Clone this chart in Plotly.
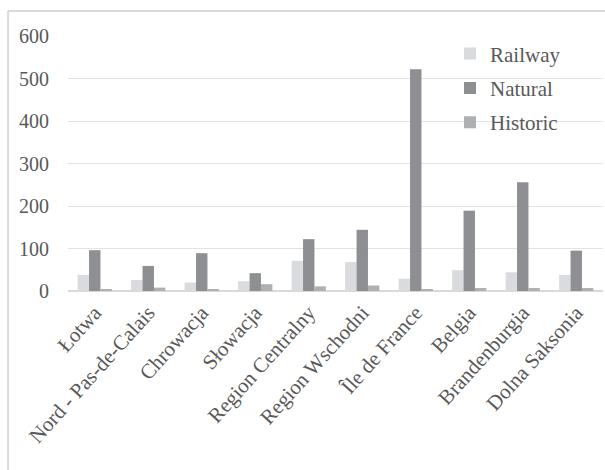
import plotly.graph_objects as go

categories = ["Łotwa", "Nord - Pas-de-Calais", "Chrowacja", "Słowacja", "Region Centralny",
              "Region Wschodni", "Île de France", "Belgia", "Brandenburgia", "Dolna Saksonia"]
railway = [38, 26, 20, 23, 71, 68, 29, 49, 44, 38]
natural = [96, 59, 89, 42, 122, 144, 522, 189, 256, 95]
historic = [4, 8, 4, 16, 11, 13, 3, 7, 7, 7]

series = [("Railway", railway, "#dadbde"), ("Natural", natural, "#8d8f93"), ("Historic", historic, "#aeb0b3")]

FONT = "Liberation Serif, Times New Roman, serif"
TXT = "#595959"

fig = go.Figure()
for name, vals, col in series:
    fig.add_trace(go.Bar(x=categories, y=vals, name=name, marker=dict(color=col, line=dict(width=0)),
                         legendgroup=name))

fig.update_layout(
    width=605, height=470,
    margin=dict(l=68, r=2, t=36, b=179),
    paper_bgcolor="white", plot_bgcolor="white",
    barmode="group", bargap=0.36, bargroupgap=0,
    font=dict(family=FONT, color=TXT, size=19),
    legend=dict(x=0.714, y=1.01, xanchor="left", yanchor="top", bgcolor="rgba(0,0,0,0)",
                font=dict(family=FONT, size=21, color=TXT), traceorder="grouped", tracegroupgap=4),
    xaxis=dict(tickangle=-48, tickfont=dict(family=FONT, size=21, color=TXT), showline=True,
               linecolor="#d9d9d9", linewidth=1, ticks="", automargin=False),
    yaxis=dict(range=[0, 600], dtick=100, tickfont=dict(family=FONT, size=20, color=TXT),
               gridcolor="#e3e3e3", gridwidth=1, zeroline=True, zerolinecolor="#d9d9d9",
               ticks="", ticklabelstandoff=18, automargin=False),
    shapes=[
        dict(type="line", xref="paper", yref="paper", x0=-0.112, x1=1.01, y0=1.098, y1=1.098,
             line=dict(color="#d9d9d9", width=2)),
        dict(type="line", xref="paper", yref="paper", x0=-0.112, x1=-0.112, y0=1.098, y1=-0.75,
             line=dict(color="#d9d9d9", width=2)),
    ],
)

fig.write_html("out.html")
